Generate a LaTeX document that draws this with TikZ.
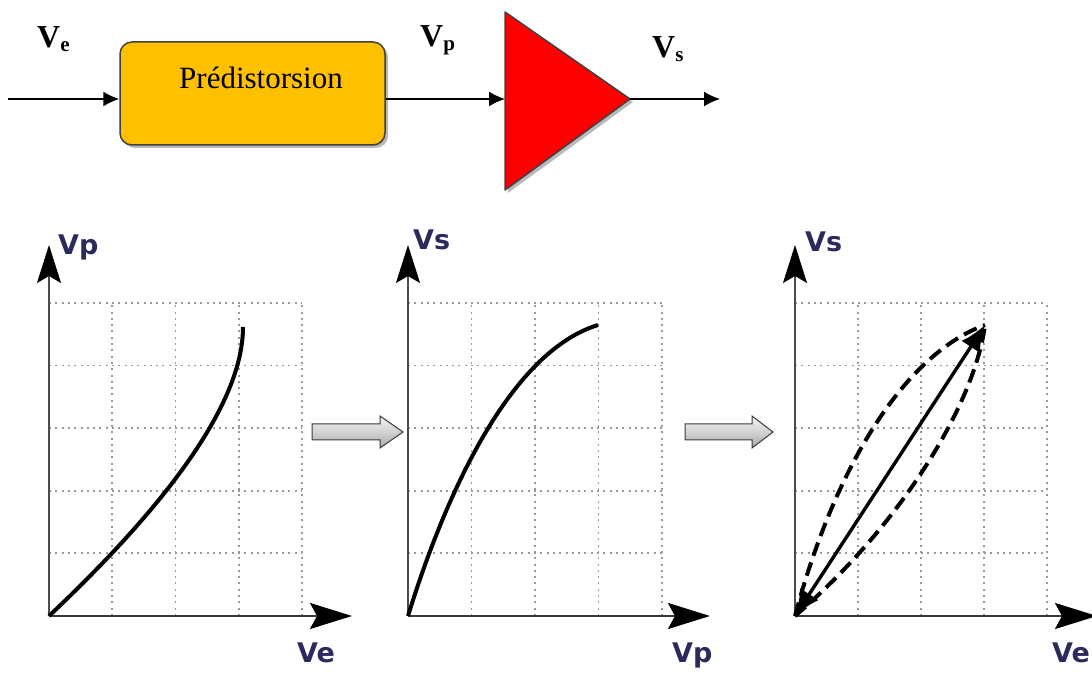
\documentclass[tikz,border=0pt]{standalone}
\usepackage{fontspec}
\setmainfont{Liberation Serif}
\newfontfamily\glabfont{DejaVu Sans}
\usetikzlibrary{arrows.meta,shadows}
\definecolor{boxfill}{HTML}{FFC000}
\definecolor{labnavy}{HTML}{2B2A5C}
\definecolor{edgegray}{HTML}{404040}
\newcommand\toplab[1]{{\fontsize{32}{32}\selectfont\bfseries V}\raisebox{-4pt}{\fontsize{21}{21}\selectfont\bfseries #1}}
\begin{document}
\begin{tikzpicture}[x=1pt,y=1pt,
  conn/.style={line width=1.5pt,-{Latex[length=16pt,width=15pt]}},
  gridln/.style={gray!80,line width=1.8pt,dash pattern=on 2pt off 4.3pt},
  axisx/.style={line width=2.4pt,gray!45!black,-{Stealth[length=42pt,width=26pt,inset=7pt,black]}},
  axisy/.style={line width=1.6pt,gray!60!black,-{Stealth[length=38pt,width=24pt,inset=7pt,black]}},
  curve/.style={line width=4pt,black},
  dcurve/.style={curve,dash pattern=on 14pt off 7pt},
  dblarrow/.style={curve,line width=3.4pt,{Latex[length=26pt,width=22pt]}-{Latex[length=26pt,width=22pt]}},
  glabel/.style={font=\glabfont\bfseries\fontsize{27}{27}\selectfont,text=labnavy,inner sep=0,anchor=base west},
  tlabel/.style={inner sep=0,anchor=base west},
  blockarrow/.style={draw=gray!45!black,line width=1pt,top color=gray!10,bottom color=gray!70,middle color=gray!35}]
\useasboundingbox (0,0) rectangle (1092,674);

% ---------- top block diagram ----------
\node[tlabel] (lve) at (37,626) {\toplab{e}};
\node[tlabel] (lvp) at (420,627) {\toplab{p}};
\node[tlabel] (lvs) at (652,616) {\toplab{s}};

\node[draw=edgegray,line width=1.5pt,rounded corners=12pt,fill=boxfill,
      minimum width=265pt,minimum height=103pt,
      drop shadow={shadow xshift=3pt,shadow yshift=-3pt,fill=gray!55,opacity=1}]
      (pred) at (252.5,580.5) {};
\node[inner sep=0] (predtxt) at (261,596) {\fontsize{31}{31}\selectfont Prédistorsion};

\coordinate (in) at (8,575);
\coordinate (ampin) at (505,575);
\coordinate (ampout) at (630,575);
\coordinate (out) at (720,575);
\coordinate (ampt) at (505,662);
\coordinate (ampb) at (505,484);

\fill[gray!55] ([shift={(3,-3)}]ampt) -- ([shift={(3,-3)}]ampout) -- ([shift={(3,-3)}]ampb) -- cycle;
\draw[edgegray,line width=1.5pt,fill=red,line join=round] (ampt) -- (ampout) -- (ampb) -- cycle;

\draw[conn] (in) -- (in -| pred.west);
\draw[conn] (ampin -| pred.east) -- (ampin);
\draw[conn] (ampout) -- (out);

% ---------- block arrows ----------
\draw[blockarrow] (312,234) -- (380,234) -- (380,226) -- (403,242) -- (380,258) -- (380,250) -- (312,250) -- cycle;
\draw[blockarrow] (685,234) -- (752,234) -- (752,226) -- (773,242) -- (752,258) -- (752,250) -- (685,250) -- cycle;

% ---------- graph 1 ----------
\begin{scope}[shift={(49,58)}]
  \foreach \i in {1,...,4} \draw[gridln] (\i*63.2,0) -- (\i*63.2,313);
  \foreach \j in {1,...,5} \draw[gridln] (0,\j*62.6) -- (252.8,\j*62.6);
  \coordinate (o1) at (0,0);
  \coordinate (xt1) at (303,0);
  \coordinate (yt1) at (0,371);
  \draw[axisy] (o1) -- (yt1);
  \draw[axisx] (o1) -- (xt1);
  \draw[curve] (o1) .. controls (90,85) and (194,200) .. (194,289);
  \node[glabel] (g1y) at (9,361) {Vp};
  \node[glabel] (g1x) at (248,-47) {Ve};
\end{scope}

% ---------- graph 2 ----------
\begin{scope}[shift={(408,58)}]
  \foreach \i in {1,...,4} \draw[gridln] (\i*63.5,0) -- (\i*63.5,313);
  \foreach \j in {1,...,5} \draw[gridln] (0,\j*62.6) -- (254,\j*62.6);
  \coordinate (o2) at (0,0);
  \coordinate (xt2) at (302,0);
  \coordinate (yt2) at (0,371);
  \draw[axisy] (o2) -- (yt2);
  \draw[axisx] (o2) -- (xt2);
  \draw[curve] (o2) .. controls (40,130) and (105,265) .. (190,291);
  \node[glabel] (g2y) at (5,366) {Vs};
  \node[glabel] (g2x) at (264,-47) {Vp};
\end{scope}

% ---------- graph 3 ----------
\begin{scope}[shift={(795,58)}]
  \foreach \i in {1,...,4} \draw[gridln] (\i*63,0) -- (\i*63,313);
  \foreach \j in {1,...,5} \draw[gridln] (0,\j*62.6) -- (252,\j*62.6);
  \coordinate (o3) at (0,0);
  \coordinate (xt3) at (302,0);
  \coordinate (yt3) at (0,371);
  \coordinate (p3) at (190,291);
  \draw[axisy] (o3) -- (yt3);
  \draw[axisx] (o3) -- (xt3);
  \draw[dcurve] (o3) .. controls (40,150) and (110,262) .. (p3);
  \draw[dcurve] (o3) .. controls (110,95) and (180,215) .. (p3);
  \draw[dblarrow] (o3) -- (p3);
  \node[glabel] (g3y) at (10,364) {Vs};
  \node[glabel] (g3x) at (257,-47) {Ve};
\end{scope}
\end{tikzpicture}
\end{document}
